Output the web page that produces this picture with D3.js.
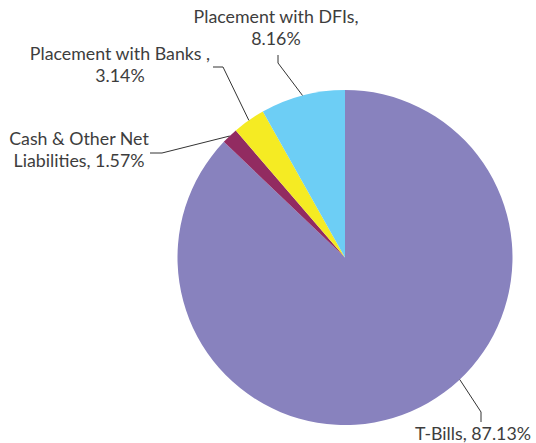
<!DOCTYPE html>
<html>
<head>
<meta charset="utf-8">
<script src="https://cdn.jsdelivr.net/npm/d3@7"></script>
<style>
  body { margin: 0; background: #fff; }
  text { font-family: Lato, "Open Sans", sans-serif; fill: #3d3d3d; }
</style>
</head>
<body>
<div id="chart"></div>
<script>
// values, clockwise from 12 o'clock
const categories = ["T-Bills", "Cash & Other Net Liabilities", "Placement with Banks", "Placement with DFIs"];
const shares = [87.13, 1.57, 3.14, 8.16];
const labelLines = [
    ["T-Bills, 87.13%"],
    ["Cash & Other Net", "Liabilities, 1.57%"],
    ["Placement with Banks ,", "3.14%"],
    ["Placement with DFIs,", "8.16%"]
];
const colors = ["#8882be", "#922b61", "#f5eb23", "#6dcef5"];

const width = 536, height = 443;
const cx = 345, cy = 257.5, radius = 167.5;

// label placement: text centre, first baseline, elbow and end of leader line
const labelLayout = [
    { x: 473, y: 440, elbow: [481, 412], end: [481, 422], anchorFrac: 0.436 },
    { x: 79, y: 145, elbow: [162, 153], end: [150, 153] },
    { x: 120, y: 60, elbow: [223, 67], end: [213, 67] },
    { x: 276, y: 23, elbow: [278, 63], end: [278, 55] }
];

const data = categories.map((c, i) => ({ name: c, value: shares[i], lines: labelLines[i], color: colors[i], layout: labelLayout[i] }));

const svg = d3.select("#chart").append("svg")
    .attr("width", width)
    .attr("height", height);

const g = svg.append("g").attr("transform", `translate(${cx},${cy})`);

const pie = d3.pie().value(d => d.value).sort(null);
const arc = d3.arc().innerRadius(0).outerRadius(radius);
const arcs = pie(data);

g.selectAll("path")
    .data(arcs)
    .enter()
    .append("path")
    .attr("d", arc)
    .attr("fill", d => d.data.color);

// leader lines
arcs.forEach(d => {
    const L = d.data.layout;
    const frac = L.anchorFrac != null ? L.anchorFrac : 0.5;
    const a = d.startAngle + (d.endAngle - d.startAngle) * frac;
    const p = d3.pointRadial(a, radius);
    const start = [cx + p[0], cy + p[1]];
    svg.append("polyline")
        .attr("points", [start, L.elbow, L.end].map(q => q.join(",")).join(" "))
        .attr("fill", "none")
        .attr("stroke", "#333")
        .attr("stroke-width", 1);
});

// labels
data.forEach(d => {
    const t = svg.append("text")
        .attr("text-anchor", "middle")
        .style("font-size", "17.8px");
    d.lines.forEach((line, i) => {
        t.append("tspan")
            .attr("x", d.layout.x)
            .attr("y", d.layout.y + i * 22)
            .text(line);
    });
});
</script>
</body>
</html>
